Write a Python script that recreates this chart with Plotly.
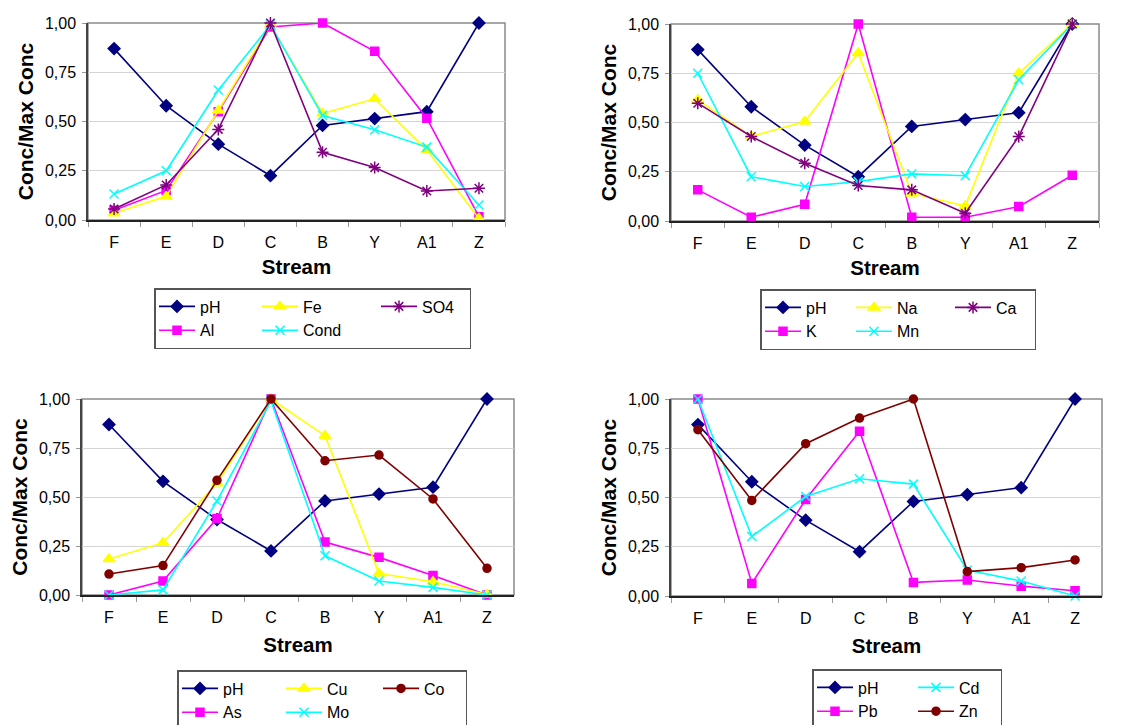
import plotly.graph_objects as go

W, H = 1135, 725

streams = ["F", "E", "D", "C", "B", "Y", "A1", "Z"]

ph = [0.87, 0.58, 0.385, 0.225, 0.48, 0.515, 0.55, 1.0]

# Panel 1
al = [0.05, 0.15, 0.55, 0.98, 1.0, 0.856, 0.517, 0.017]
fe = [0.034, 0.12, 0.556, 0.99, 0.54, 0.615, 0.356, 0.008]
cond = [0.132, 0.25, 0.66, 0.99, 0.53, 0.458, 0.37, 0.076]
so4 = [0.056, 0.178, 0.46, 1.0, 0.344, 0.266, 0.147, 0.161]

# Panel 2
na = [0.615, 0.429, 0.505, 0.853, 0.14, 0.076, 0.75, 1.0]
k = [0.158, 0.019, 0.085, 1.0, 0.019, 0.019, 0.073, 0.232]
mn = [0.75, 0.225, 0.175, 0.2, 0.239, 0.23, 0.717, 1.0]
ca = [0.598, 0.429, 0.293, 0.18, 0.158, 0.039, 0.429, 1.0]

# Panel 3
cu = [0.184, 0.267, 0.57, 1.0, 0.813, 0.11, 0.068, 0.003]
co = [0.107, 0.15, 0.585, 1.0, 0.685, 0.714, 0.49, 0.136]
as_ = [0.0, 0.071, 0.39, 1.0, 0.27, 0.192, 0.099, 0.0]
mo = [0.0, 0.026, 0.48, 0.99, 0.2, 0.071, 0.039, 0.0]

# Panel 4
cd = [1.0, 0.302, 0.505, 0.595, 0.568, 0.132, 0.076, 0.0]
pb = [1.0, 0.064, 0.49, 0.836, 0.069, 0.081, 0.05, 0.027]
zn = [0.844, 0.485, 0.773, 0.903, 1.0, 0.124, 0.144, 0.183]

ytickvals = [0, 0.25, 0.5, 0.75, 1.0]

NAVY = "#000080"
MAG = "#FF00FF"
YEL = "#FFFF00"
CYA = "#00FFFF"
PUR = "#800080"
DRED = "#800000"

STY = {
    "pH": dict(color=NAVY, symbol="diamond", size=9),
    "Al": dict(color=MAG, symbol="square", size=8),
    "K": dict(color=MAG, symbol="square", size=8),
    "As": dict(color=MAG, symbol="square", size=8),
    "Pb": dict(color=MAG, symbol="square", size=8),
    "Fe": dict(color=YEL, symbol="triangle-up", size=10),
    "Na": dict(color=YEL, symbol="triangle-up", size=10),
    "Cu": dict(color=YEL, symbol="triangle-up", size=10),
    "Cond": dict(color=CYA, symbol="x-thin-open", size=9),
    "Mn": dict(color=CYA, symbol="x-thin-open", size=9),
    "Mo": dict(color=CYA, symbol="x-thin-open", size=9),
    "Cd": dict(color=CYA, symbol="x-thin-open", size=9),
    "SO4": dict(color=PUR, symbol="asterisk-open", size=10),
    "Ca": dict(color=PUR, symbol="asterisk-open", size=10),
    "Co": dict(color=DRED, symbol="circle", size=8),
    "Zn": dict(color=DRED, symbol="circle", size=8),
}

panels = [
    [("pH", ph, "a", 52), ("Al", al, "a", 52), ("Fe", fe, "b", 68), ("Cond", cond, "b", 68), ("SO4", so4, "c", 42)],
    [("pH", ph, "a", 40), ("K", k, "a", 40), ("Na", na, "b", 48), ("Mn", mn, "b", 48), ("Ca", ca, "c", 33)],
    [("pH", ph, "a", 53), ("As", as_, "a", 53), ("Cu", cu, "b", 46), ("Mo", mo, "b", 46), ("Co", co, "c", 36)],
    [("pH", ph, "a", 50), ("Pb", pb, "a", 50), ("Cd", cd, "b", 36), ("Zn", zn, "b", 36)],
]

# pixel boxes of plot areas: (left, right, top, bottom)
boxes = [
    (88, 505, 23, 220),
    (671, 1099, 24, 221),
    (82, 514, 399, 595),
    (671, 1102, 399, 596),
]
legpos = [(154, 288), (760, 289), (177, 670), (812, 669)]

FONT = "Liberation Sans, Arial, sans-serif"

fig = go.Figure()
layout = dict(
    width=W, height=H,
    margin=dict(l=0, r=0, t=0, b=0, autoexpand=False),
    paper_bgcolor="white", plot_bgcolor="white",
    separators=",.",
    font=dict(family=FONT, size=16, color="black"),
    shapes=[],
)

for i, (series, box) in enumerate(zip(panels, boxes)):
    n = i + 1
    xa = "x" if n == 1 else f"x{n}"
    ya = "y" if n == 1 else f"y{n}"
    lg = "legend" if n == 1 else f"legend{n}"
    for name, vals, grp, lw in series:
        st = STY[name]
        fig.add_trace(go.Scatter(
            x=streams, y=vals, name=name, mode="lines+markers",
            xaxis=xa, yaxis=ya, legend=lg, legendgroup=f"p{n}{grp}",
            legendwidth=lw,
            line=dict(color=st["color"], width=1.6),
            marker=dict(symbol=st["symbol"], size=st["size"], color=st["color"],
                        line=dict(color=st["color"], width=1.5)),
            cliponaxis=False,
        ))
    l, r, t, b = box
    xkey = "xaxis" if n == 1 else f"xaxis{n}"
    ykey = "yaxis" if n == 1 else f"yaxis{n}"
    layout[xkey] = dict(
        domain=[l / W, r / W], anchor=ya, type="category",
        categoryorder="array", categoryarray=streams,
        range=[-0.5, len(streams) - 0.5],
        showgrid=False, zeroline=False,
        showline=True, linecolor="#222222", linewidth=1.8,
        ticks="outside", tickson="boundaries", ticklen=5, tickcolor="#999999",
        tickfont=dict(size=16, family=FONT),
        ticklabelstandoff=7,
        title=dict(text="Stream", font=dict(size=20.5, family=FONT, weight="bold"),
                   standoff=10 if n <= 2 else 13),
    )
    layout[ykey] = dict(
        domain=[1 - b / H, 1 - t / H], anchor=xa,
        range=[0, 1], tickvals=ytickvals, tickformat=".2f",
        showgrid=True, gridcolor="#d4d4d4", gridwidth=1, zeroline=False,
        showline=True, linecolor="#444444", linewidth=1.5,
        ticks="outside", ticklen=4, tickcolor="#999999",
        tickfont=dict(size=16, family=FONT),
        ticklabelstandoff=3,
        title=dict(text="Conc/Max Conc", font=dict(size=21, family=FONT, weight="bold"), standoff=6),
    )
    layout["shapes"].append(dict(
        type="rect", xref=f"{xa} domain", yref=f"{ya} domain",
        x0=0, x1=1, y0=0, y1=1, line=dict(color="#8a8a8a", width=1.5), layer="below",
    ))
    lx, ly = legpos[i]
    layout[lg] = dict(
        orientation="h", xref="paper", yref="paper",
        x=lx / W, y=1 - ly / H, xanchor="left", yanchor="top",
        bgcolor="white", bordercolor="#555555", borderwidth=1.5,
        font=dict(size=16, family=FONT, color="black"),
        itemwidth=36, entrywidthmode="pixels",
        tracegroupgap=0,
    )

fig.update_layout(**layout)
fig.write_html(
    "out.html",
    config={"displayModeBar": False},
    post_script="document.body.style.margin='0';document.body.style.padding='0';",
)
